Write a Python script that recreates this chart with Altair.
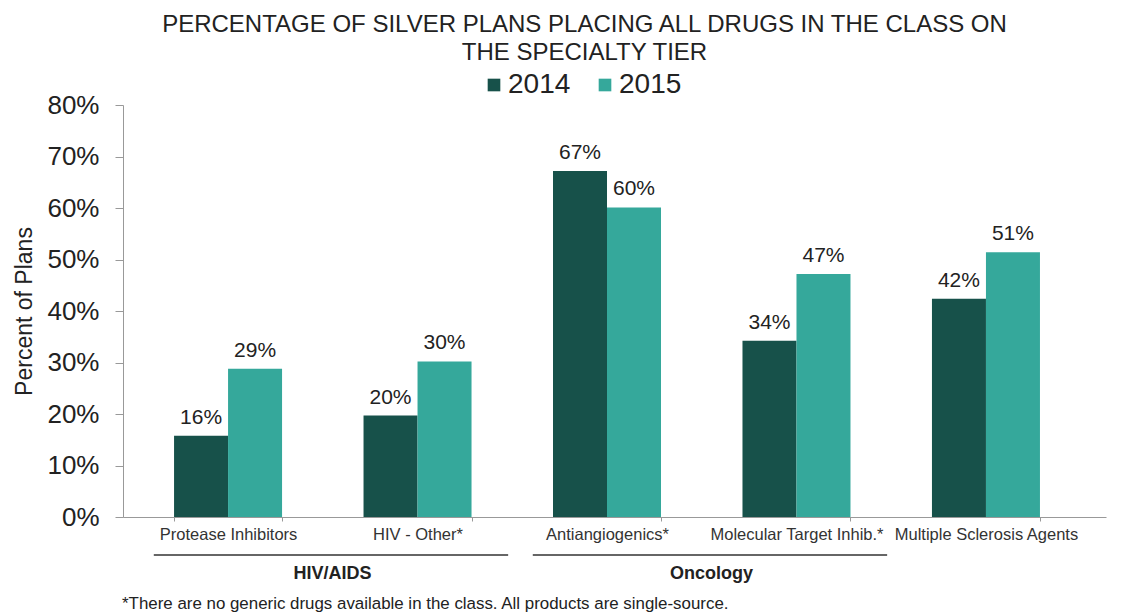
import altair as alt
import pandas as pd

categories = ["Protease Inhibitors", "HIV - Other*", "Antiangiogenics*",
              "Molecular Target Inhib.*", "Multiple Sclerosis Agents"]
values_2014 = [15.8, 19.7, 67.2, 34.2, 42.4]
values_2015 = [28.8, 30.2, 60.1, 47.2, 51.4]
years = ["2014", "2015"]
colors = ["#17514a", "#35a89b"]

group_names = ["HIV/AIDS", "Oncology"]
group_start = ["Protease Inhibitors", "Antiangiogenics*"]
group_end = ["HIV - Other*", "Molecular Target Inhib.*"]

footnote = "*There are no generic drugs available in the class. All products are single-source."

rows = []
for c, a, b in zip(categories, values_2014, values_2015):
    rows.append({"category": c, "year": "2014", "value": a, "label": f"{round(a)}%"})
    rows.append({"category": c, "year": "2015", "value": b, "label": f"{round(b)}%"})
df = pd.DataFrame(rows)

groups = pd.DataFrame({"group": group_names, "start": group_start, "end": group_end})

FONT = "Liberation Sans"
W, H = 983, 412

xscale = alt.Scale(domain=categories, paddingInner=0.43, paddingOuter=0.309, align=0.436)
gscale = alt.Scale(domain=categories, paddingInner=0, paddingOuter=0.0937, align=0.28)

base = alt.Chart(df)

bars = base.mark_bar().encode(
    x=alt.X("category:N", scale=xscale, sort=categories, title=None,
            axis=alt.Axis(labelAngle=0, labelFontSize=16.5, labelColor="#333333",
                          labelFont=FONT, labelPadding=5, tickBand="extent",
                          tickSize=4, domainColor="#999999", tickColor="#999999",
                          labelLimit=300)),
    xOffset=alt.XOffset("year:N", sort=years, scale=alt.Scale(paddingInner=0)),
    y=alt.Y("value:Q", scale=alt.Scale(domain=[0, 80], nice=False),
            title="Percent of Plans",
            axis=alt.Axis(values=[0, 10, 20, 30, 40, 50, 60, 70, 80],
                          labelExpr="datum.value + '%'", grid=False,
                          labelFontSize=26, labelColor="#222222", labelFont=FONT,
                          titleFontSize=23, titleFont=FONT, titleFontWeight="normal",
                          titleColor="#222222", titlePadding=10, labelPadding=16,
                          tickSize=8, domainColor="#999999", tickColor="#999999")),
    color=alt.Color("year:N", sort=years,
                    scale=alt.Scale(domain=years, range=colors),
                    legend=alt.Legend(title=None, orient="none", direction="horizontal",
                                      legendX=357, legendY=-34, labelFontSize=28,
                                      labelFont=FONT, labelColor="#222222",
                                      symbolType="square", symbolSize=160,
                                      symbolStrokeWidth=0, columnPadding=20,
                                      labelOffset=0)),
)

texts = base.mark_text(dy=-18, fontSize=21, font=FONT, color="#222222").encode(
    x=alt.X("category:N", scale=xscale, sort=categories),
    xOffset=alt.XOffset("year:N", sort=years),
    y="value:Q",
    text="label:N",
)

grules = alt.Chart(groups).mark_rule(color="#666666", strokeWidth=2).encode(
    x=alt.X("start:N", scale=gscale, bandPosition=0.11, axis=None),
    x2=alt.X2("end:N", bandPosition=0.98),
    y=alt.value(H + 38),
)

gtext = alt.Chart(groups).mark_text(fontSize=18, fontWeight="bold", font=FONT,
                                    color="#222222", dx=10).encode(
    x=alt.X("start:N", scale=gscale, bandPosition=1, axis=None),
    y=alt.value(H + 57),
    text="group:N",
)

foot = alt.Chart(pd.DataFrame({"t": [footnote]})).mark_text(
    align="left", fontSize=16.9, font=FONT, color="#222222").encode(
    x=alt.value(-1), y=alt.value(H + 87), text="t:N")

main = alt.layer(bars, texts)
ann = alt.layer(grules, gtext)

chart = alt.layer(main, ann, foot).resolve_scale(x="independent").properties(
    width=W, height=H,
    title=alt.Title(["PERCENTAGE OF SILVER PLANS PLACING ALL DRUGS IN THE CLASS ON",
                     "THE SPECIALTY TIER"],
                    fontSize=24, font=FONT, fontWeight="normal", color="#222222",
                    lineHeight=28, offset=6, dx=-30),
).configure_view(stroke=None)

chart.save("out.html", embed_options={"renderer": "svg", "actions": False})
